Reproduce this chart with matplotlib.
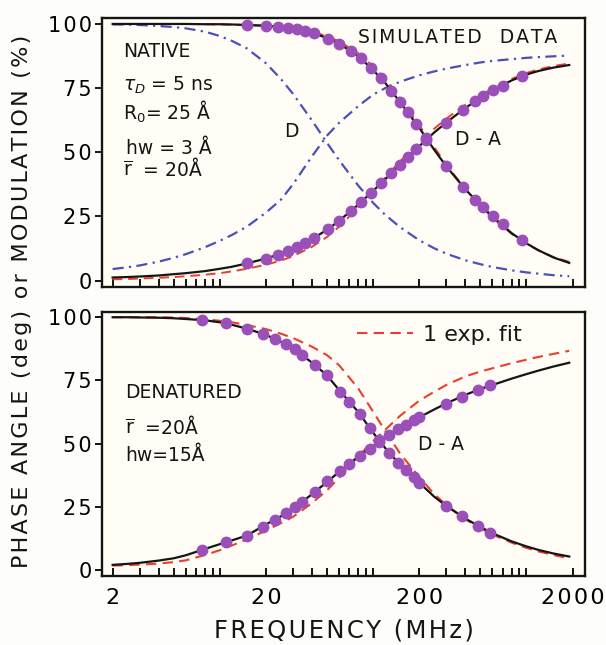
import matplotlib
matplotlib.use('Agg')
import matplotlib.pyplot as plt
from matplotlib.ticker import NullFormatter

plt.rcParams['font.family'] = ['DejaVu Sans']
plt.rcParams['mathtext.fontset'] = 'dejavusans'

freq = [2, 2.5, 3, 4, 5, 6, 8, 10, 12, 15, 20, 25, 30, 40, 50, 60, 80,
        100, 120, 150, 200, 250, 300, 400, 500, 600, 800, 1000, 1200, 1500, 1900]

# ===== top panel: native (donor alone + donor-acceptor)
d_mod = [99.8, 99.8, 99.6, 99.2, 98.8, 98.3, 97.0, 95.3, 93.4, 90.5, 84.7, 78.6, 72.8, 62.3, 53.7,
         46.9, 37.0, 30.3, 25.6, 20.8, 15.7, 12.6, 10.5, 7.9, 6.4, 5.3, 4.0, 3.2, 2.7, 2.1, 1.7]
d_phase = [4.5, 5.2, 5.9, 7.4, 8.9, 10.3, 13.0, 15.5, 17.8, 21.0, 26.5, 31.5, 37.5, 48.5, 56.5,
           61.5, 68.0, 72.5, 75.0, 77.5, 80.0, 81.5, 82.6, 84.0, 85.0, 85.6, 86.3, 86.8, 87.1, 87.4, 87.7]
da_mod = [100, 100, 100, 100, 100, 100, 99.9, 99.9, 99.8, 99.6, 99.3, 98.8, 98.2, 96.6, 94.5,
          92.3, 87.5, 82.0, 77.0, 69.5, 59.5, 51.0, 44.5, 35.5, 29.5, 25.0, 18.5, 14.5, 11.8, 9.0, 6.9]
da_phase = [1.2, 1.4, 1.6, 2.0, 2.5, 2.9, 3.7, 4.6, 5.4, 6.7, 8.6, 10.5, 12.4, 16.2, 19.8,
            23.3, 29.6, 35.0, 39.5, 45.3, 52.4, 57.7, 61.6, 67.3, 71.2, 74.0, 78.0, 80.3, 81.7, 83.0, 84.0]
fit_mod = [100, 100, 100, 100, 100, 100, 99.9, 99.8, 99.7, 99.6, 99.3, 98.9, 98.4, 97.0, 95.2,
           93.2, 88.6, 83.5, 78.5, 71.0, 60.5, 52.0, 45.2, 35.6, 29.2, 24.5, 18.2, 14.3, 11.7, 9.2, 7.3]
fit_phase = [0.5, 0.6, 0.8, 1.1, 1.4, 1.7, 2.3, 2.9, 3.6, 4.6, 6.2, 7.8, 9.5, 13.2, 17.0,
             21.0, 28.5, 35.0, 40.2, 46.5, 53.8, 59.2, 63.1, 68.5, 72.2, 74.8, 78.6, 80.9, 82.3, 83.6, 84.6]

sim_freq = [15, 20, 24, 28, 32, 36, 41, 51, 60, 72, 83, 97, 113, 131, 149, 168, 191, 222,
            300, 385, 462, 522, 605, 700, 930]
sim_mod = [99.6, 99.3, 98.9, 98.5, 98.0, 97.4, 96.4, 94.3, 92.3, 89.6, 86.7, 82.8, 78.8, 74.0,
           69.7, 65.6, 61.2, 55.7, 44.5, 36.6, 31.6, 28.6, 25.0, 22.0, 15.8]
sim_phase = [6.7, 8.6, 10.1, 11.7, 13.2, 14.8, 16.6, 20.2, 23.3, 27.2, 30.5, 34.2, 38.0, 42.0,
             45.2, 48.3, 51.4, 54.9, 61.6, 66.6, 69.9, 71.9, 74.1, 76.0, 79.6]

# ===== bottom panel: denatured
den_mod = [100, 100, 99.9, 99.8, 99.6, 99.3, 98.8, 98.0, 97.0, 95.5, 93.0, 90.3, 87.7, 82.0, 77.0,
           71.2, 62.5, 54.3, 48.2, 41.6, 34.5, 29.0, 25.3, 20.3, 17.0, 14.5, 11.3, 9.3, 7.9, 6.5, 5.3]
den_phase = [2.0, 2.4, 2.8, 3.7, 4.6, 5.8, 8.3, 10.2, 11.7, 13.6, 18.0, 21.2, 24.2, 30.0, 34.8,
             38.8, 44.8, 49.0, 52.3, 56.0, 60.4, 63.5, 65.9, 69.3, 71.6, 73.2, 75.7, 77.5, 78.9, 80.5, 82.0]
den_fit_mod = [100, 100, 100, 100, 99.9, 99.7, 99.2, 98.6, 98.0, 96.9, 95.3, 93.5, 91.8, 88.3, 85.0,
               81.0, 71.8, 62.6, 55.0, 46.0, 36.8, 30.0, 25.7, 20.0, 16.5, 14.0, 10.8, 8.7, 7.3, 5.9, 4.6]
den_fit_phase = [1.7, 1.9, 2.1, 2.5, 3.1, 3.8, 5.9, 7.8, 9.7, 12.0, 15.6, 18.5, 21.0, 26.5, 31.5,
                 36.5, 45.0, 51.0, 55.5, 61.0, 67.0, 70.5, 73.2, 76.6, 78.5, 79.8, 81.8, 83.2, 84.3, 85.5, 86.7]

den_sim_freq = [7.7, 11, 15, 19, 23, 27, 31, 34.5, 42, 50, 61, 70, 82, 95, 110, 127, 146, 165,
                184, 200, 298, 378, 485, 580]
den_sim_mod = [98.9, 97.6, 95.5, 93.5, 91.3, 89.3, 87.3, 85.2, 81.0, 77.0, 70.6, 66.5, 61.7, 56.3,
               51.5, 46.4, 42.3, 39.6, 36.6, 34.5, 25.4, 21.2, 17.4, 14.8]
den_sim_phase = [8.0, 11.0, 13.6, 17.0, 19.8, 22.4, 24.9, 27.0, 30.7, 35.0, 39.0, 41.8, 45.0, 47.8,
                 50.8, 53.4, 55.6, 57.5, 59.2, 60.4, 65.8, 68.6, 71.3, 73.0]

x_major = [2, 20, 200, 2000]
x_labels = ['2', '20', '200', '2000']
x_minor = [3, 4, 5, 6, 7, 8, 9, 10, 30, 40, 50, 60, 70, 80, 90, 100,
           300, 400, 500, 600, 700, 800, 900, 1000]
y_ticks = [0, 25, 50, 75, 100]
y_labels = ['0', '25', '50', '75', '100']

BLACK = '#151515'
RED = '#e8402c'
BLUE = '#4b50b8'
PURPLE = '#9b4fb9'
PAPER = '#fffdf6'


def spaced(s):
    # the original lettering is set wide, fake it with hair spaces
    return '\u200a'.join(s)


fig = plt.figure(figsize=(6.06, 6.45), dpi=100, facecolor='#fdfdfa')
ax1 = fig.add_axes([0.168, 0.555, 0.797, 0.417], facecolor=PAPER)
ax2 = fig.add_axes([0.168, 0.107, 0.797, 0.409], facecolor=PAPER)

dashdot = (0, (5, 2.4, 1, 2.4))
dashed = (0, (5, 3))
dot_kw = dict(ls='none', marker='o', ms=7.5, color=PURPLE, mec=PURPLE, zorder=5)

# top panel
ax1.plot(freq, d_mod, color=BLUE, lw=1.6, ls=dashdot, zorder=2)
ax1.plot(freq, d_phase, color=BLUE, lw=1.6, ls=dashdot, zorder=2)
ax1.plot(freq, fit_mod, color=RED, lw=1.4, ls=dashed, zorder=3)
ax1.plot(freq, fit_phase, color=RED, lw=1.4, ls=dashed, zorder=3)
ax1.plot(freq, da_mod, color=BLACK, lw=1.6, zorder=4)
ax1.plot(freq, da_phase, color=BLACK, lw=1.6, zorder=4)
ax1.plot(sim_freq, sim_mod, **dot_kw)
ax1.plot(sim_freq, sim_phase, **dot_kw)

# bottom panel
ax2.plot(freq, den_fit_mod, color=RED, lw=1.5, ls=dashed, zorder=3)
ax2.plot(freq, den_fit_phase, color=RED, lw=1.5, ls=dashed, zorder=3)
ax2.plot(freq, den_mod, color=BLACK, lw=1.6, zorder=4)
ax2.plot(freq, den_phase, color=BLACK, lw=1.6, zorder=4)
ax2.plot(den_sim_freq, den_sim_mod, **dot_kw)
ax2.plot(den_sim_freq, den_sim_phase, **dot_kw)

for ax, ylim in ((ax1, (-2.5, 102.3)), (ax2, (-2.4, 102))):
    ax.set_xscale('log')
    ax.set_xlim(1.70, 2400)
    ax.set_ylim(*ylim)
    ax.set_xticks(x_major)
    ax.set_xticks(x_minor, minor=True)
    ax.xaxis.set_minor_formatter(NullFormatter())
    ax.set_yticks(y_ticks)
    ax.set_yticklabels([spaced(s) for s in y_labels])
    ax.tick_params(axis='x', which='both', direction='in', length=6, width=1.3,
                   labelsize=16, pad=9, top=False)
    ax.tick_params(axis='y', which='both', direction='out', length=5, width=1.3,
                   labelsize=15, pad=2, right=False)
    for sp in ax.spines.values():
        sp.set_linewidth(1.7)
        sp.set_color(BLACK)

ax1.set_xticklabels([])
ax2.set_xticklabels([spaced(s) for s in x_labels])

# annotations, top
txt = dict(fontsize=13.5, color=BLACK, va='center', ha='left')
ax1.text(0.0435, 0.874, 'NATIVE', transform=ax1.transAxes, **txt)
ax1.text(0.0435, 0.751, r'$\tau_D$ = 5 ns', transform=ax1.transAxes, **txt)
ax1.text(0.0435, 0.651, 'R$_0$= 25 Å', transform=ax1.transAxes, **txt)
ax1.text(0.05, 0.515, 'hw = 3 Å', transform=ax1.transAxes, **txt)
ax1.text(0.0435, 0.44, r'$\overline{\mathrm{r}}$  = 20Å', transform=ax1.transAxes, **txt)
ax1.text(0.378, 0.58, 'D', transform=ax1.transAxes, **txt)
ax1.text(0.731, 0.55, 'D - A', transform=ax1.transAxes, **txt)
ax1.text(0.53, 0.926, spaced('SIMULATED') + '   ' + spaced('DATA'), transform=ax1.transAxes, **txt)

# annotations, bottom
ax2.plot([0.528, 0.644], [0.92, 0.92], transform=ax2.transAxes, color=RED, lw=1.5, ls=dashed)
ax2.text(0.665, 0.915, '1 exp. fit', transform=ax2.transAxes, fontsize=16, color=BLACK,
         va='center', ha='left')
ax2.text(0.048, 0.697, 'DENATURED', transform=ax2.transAxes, **txt)
ax2.text(0.048, 0.568, r'$\overline{\mathrm{r}}$  =20Å', transform=ax2.transAxes, **txt)
ax2.text(0.048, 0.455, 'hw=15Å', transform=ax2.transAxes, **txt)
ax2.text(0.654, 0.5, 'D - A', transform=ax2.transAxes, **txt)

fig.text(0.036, 0.532, spaced('PHASE ANGLE (deg) or MODULATION (%)'), rotation=90,
         ha='center', va='center', fontsize=16, color=BLACK)
fig.text(0.568, 0.023, spaced('FREQUENCY (MHz)'), ha='center', va='center', fontsize=17.5, color=BLACK)

fig.savefig('out.png', dpi=100, facecolor=fig.get_facecolor())
